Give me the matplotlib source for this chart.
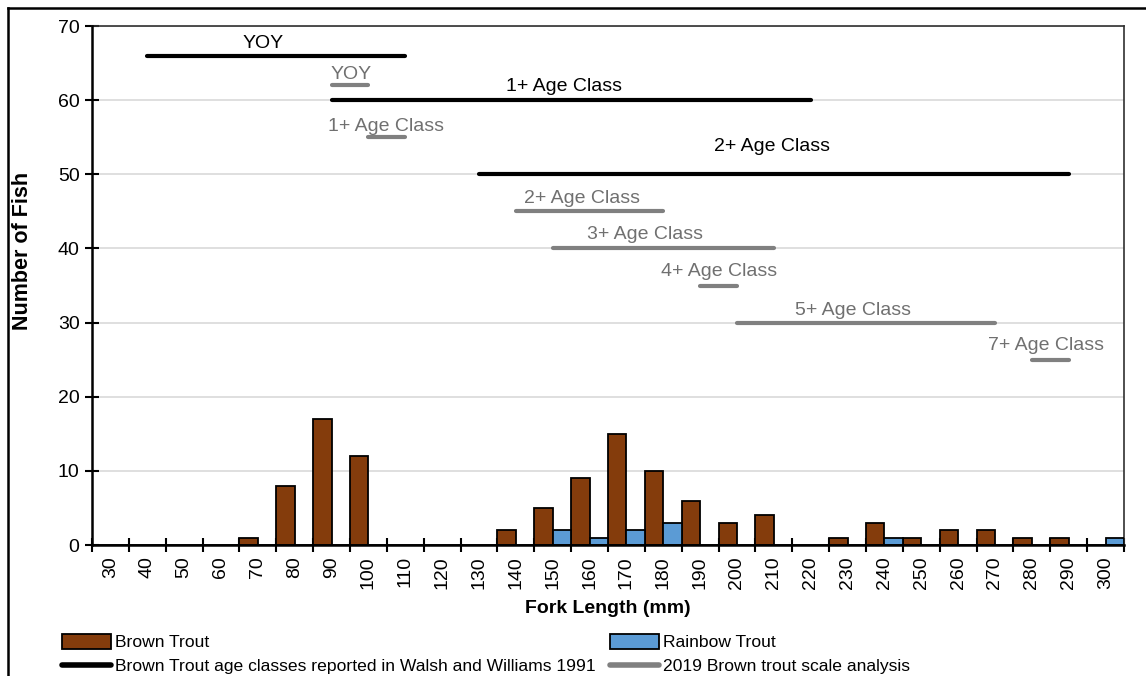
import matplotlib
matplotlib.use("Agg")
import matplotlib.pyplot as plt
import numpy as np
from matplotlib.lines import Line2D
from matplotlib.patches import Patch

plt.rcParams['font.family'] = ['Liberation Sans', 'DejaVu Sans']

# ---------------- data ----------------
fork_lengths = [30, 40, 50, 60, 70, 80, 90, 100, 110, 120, 130, 140, 150, 160,
                170, 180, 190, 200, 210, 220, 230, 240, 250, 260, 270, 280, 290, 300]
brown_trout = [0, 0, 0, 0, 1, 8, 17, 12, 0, 0, 0, 2, 5, 9,
               15, 10, 6, 3, 4, 0, 1, 3, 1, 2, 2, 1, 1, 0]
rainbow_trout = [0, 0, 0, 0, 0, 0, 0, 0, 0, 0, 0, 0, 2, 1,
                 2, 3, 0, 0, 0, 0, 0, 1, 0, 0, 0, 0, 0, 1]

# age classes: (label, start length, end length, y level)
walsh_labels = ["YOY", "1+ Age Class", "2+ Age Class"]
walsh_start = [40, 90, 130]
walsh_end = [110, 220, 290]
walsh_level = [66, 60, 50]

scale_labels = ["YOY", "1+ Age Class", "2+ Age Class", "3+ Age Class",
                "4+ Age Class", "5+ Age Class", "7+ Age Class"]
scale_start = [90, 100, 140, 150, 190, 200, 280]
scale_end = [100, 110, 180, 210, 200, 270, 290]
scale_level = [62, 55, 45, 40, 35, 30, 25]

y_ticks = [0, 10, 20, 30, 40, 50, 60, 70]

# label layout offsets (x in category units, y in data units)
walsh_dx = [-0.37, -0.2, -0.04]
walsh_dy = [1.7, 1.9, 3.8]
scale_dx = [0.02, -0.02, -0.2, -0.49, 0.02, -0.34, -0.12]
scale_dy = [1.5, 1.5, 1.8, 1.9, 1.9, 1.6, 1.9]

BROWN = "#843C0C"
BLUE = "#5B9BD5"
GRAY_LINE = "#808080"
GRAY_TEXT = "#707070"

fig = plt.figure(figsize=(11.46, 6.76), dpi=100)
W, H = 1146, 676
ax = fig.add_axes([92 / W, (H - 545) / H, (1124 - 92) / W, (545 - 26) / H])

x = np.arange(len(fork_lengths))
ax.bar(x - 0.25, brown_trout, width=0.5, color=BROWN, edgecolor="black",
       linewidth=1.3, zorder=3)
ax.bar(x + 0.25, rainbow_trout, width=0.5, color=BLUE, edgecolor="black",
       linewidth=1.3, zorder=3)


def pos(L):
    return (L - fork_lengths[0]) / 10.0


for lab, s, e, lv, dx, dy in zip(walsh_labels, walsh_start, walsh_end, walsh_level,
                                 walsh_dx, walsh_dy):
    ax.plot([pos(s), pos(e)], [lv, lv], color="black", lw=3.0,
            solid_capstyle="round", zorder=4)
    ax.text((pos(s) + pos(e)) / 2 + dx, lv + dy, lab, ha="center", va="center",
            fontsize=14, color="black", zorder=5)

for lab, s, e, lv, dx, dy in zip(scale_labels, scale_start, scale_end, scale_level,
                                 scale_dx, scale_dy):
    ax.plot([pos(s), pos(e)], [lv, lv], color=GRAY_LINE, lw=3.0,
            solid_capstyle="round", zorder=4)
    ax.text((pos(s) + pos(e)) / 2 + dx, lv + dy, lab, ha="center", va="center",
            fontsize=14, color=GRAY_TEXT, zorder=5)

ax.set_xlim(-0.5, len(fork_lengths) - 0.5)
ax.set_ylim(0, 70)
ax.set_yticks(y_ticks)
ax.set_xticks(x)
ax.set_xticklabels([str(v) for v in fork_lengths], rotation=90)
ax.set_xticks(np.arange(len(fork_lengths) + 1) - 0.5, minor=True)
ax.tick_params(axis="x", which="major", length=0, labelsize=14, pad=8)
ax.tick_params(axis="x", which="minor", direction="inout", length=10, width=1.5)
ax.tick_params(axis="y", direction="inout", length=10, width=1.5, labelsize=14, pad=4)

ax.grid(axis="y", color="#d9d9d9", linewidth=1.2, zorder=0)
ax.set_axisbelow(True)

for side in ["left", "bottom"]:
    ax.spines[side].set_linewidth(1.8)
    ax.spines[side].set_color("black")
    ax.spines[side].set_zorder(6)
for side in ["top", "right"]:
    ax.spines[side].set_linewidth(1.2)
    ax.spines[side].set_color("#303030")

ax.set_xlabel("Fork Length (mm)", fontsize=14, fontweight="bold", labelpad=8)
fig.text(23 / W, 1 - 251 / H, "Number of Fish", rotation=90, ha="center",
         va="center", fontsize=15.5, fontweight="bold")

handles = [
    Patch(facecolor=BROWN, edgecolor="black", linewidth=1.3, label="Brown Trout"),
    Line2D([0], [0], color="black", lw=4, solid_capstyle="round",
           label="Brown Trout age classes reported in Walsh and Williams 1991"),
    Patch(facecolor=BLUE, edgecolor="black", linewidth=1.3, label="Rainbow Trout"),
    Line2D([0], [0], color=GRAY_LINE, lw=4, solid_capstyle="round",
           label="2019 Brown trout scale analysis"),
]
leg = fig.legend(handles=handles, ncol=2, loc="upper left",
                 bbox_to_anchor=(62 / W, 1 - 634 / H),
                 frameon=False, handlelength=2.8, handleheight=0.9,
                 handletextpad=0.25, columnspacing=0.8, labelspacing=0.45,
                 borderaxespad=0, borderpad=0,
                 prop={"family": ["Liberation Sans"], "size": 12.6})

# outer chart frame (left and top edges visible)
fig.add_artist(Line2D([8 / W, 8 / W], [0, 1 - 8 / H], color="black", lw=1.8,
                      transform=fig.transFigure))
fig.add_artist(Line2D([8 / W, 1], [1 - 8 / H, 1 - 8 / H], color="black", lw=1.8,
                      transform=fig.transFigure))

fig.savefig("out.png", dpi=100)
